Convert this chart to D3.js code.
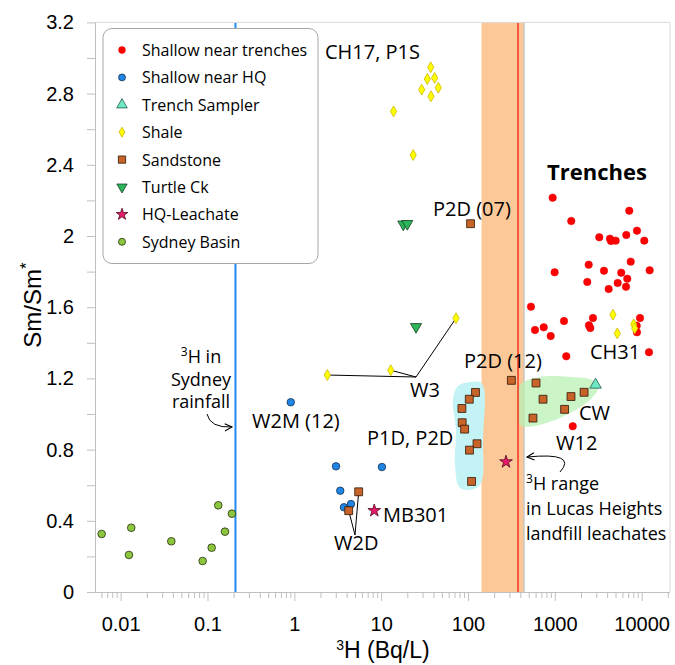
<!DOCTYPE html>
<html>
<head>
<meta charset="utf-8">
<script src="https://cdn.jsdelivr.net/npm/d3@7"></script>
<style>
  body { margin: 0; background: #fff; }
  svg { display: block; }
</style>
</head>
<body>
<svg id="chart" width="675" height="665"></svg>
<script>
// ---------- data: [3H (Bq/L), Sm/Sm*] ----------
const shallowTrenches = [
  [944,2.215],[7200,2.142],[1546,2.084],[3250,1.993],[4315,1.985],[4435,1.972],[5020,1.974],
  [6650,2.006],[8830,2.030],[10720,1.974],[995,1.796],[2455,1.839],[3680,1.805],[5820,1.794],
  [7480,1.856],[12360,1.807],[2365,1.742],[4170,1.702],[5290,1.736],[6830,1.760],[6600,1.715],
  [531,1.603],[591,1.472],[745,1.487],[896,1.438],[1275,1.522],[2750,1.539],[2473,1.498],
  [2560,1.483],[9570,1.539],[8770,1.496],[8830,1.459],[1355,1.324],[12140,1.347],[1607,0.931]
];
const shallowHQ = [[0.91,1.066],[3.02,0.706],[10.2,0.702],[3.38,0.569],[3.73,0.476],[4.49,0.494]];
const trenchSampler = [[2945,1.164]];
const shale = [
  [37.2,2.948],[34.0,2.882],[41.3,2.888],[29.3,2.822],[45.5,2.833],[37.5,2.785],[13.9,2.70],
  [23.4,2.455],[4670,1.558],[8090,1.504],[8310,1.481],[5240,1.453],[72.7,1.538],[2.40,1.219],[12.9,1.246]
];
const sandstone = [
  [107,2.069],[316,1.189],[122,1.121],[103.5,1.083],[85.1,1.031],[85.7,0.951],[91.4,0.915],
  [127,0.833],[104,0.797],[110,0.621],[607,1.174],[731,1.083],[1535,1.098],[2173,1.122],
  [1295,1.026],[560,0.977],[5.51,0.563],[4.23,0.457]
];
const turtleCk = [[18.0,2.066],[20.0,2.069],[25.2,1.490]];
const hqLeachate = [[274,0.731],[8.33,0.457]];
const sydneyBasin = [
  [0.00604,0.326],[0.01246,0.208],[0.01324,0.361],[0.0383,0.285],[0.0880,0.174],
  [0.1117,0.249],[0.133,0.487],[0.159,0.339],[0.191,0.440]
];

// reference levels
const rainfall3H = 0.21;              // 3H in Sydney rainfall
const leachateRange = [143, 441];     // 3H range in Lucas Heights landfill leachates
const leachateLine = 377;

// outlines of the shaded groups
const hullP1D = [[105,1.180],[145,1.169],[149,0.854],[143,0.618],[117,0.579],[80.9,0.584],
                 [70.8,0.713],[72.6,0.910],[67.1,1.079],[76.7,1.157]];
const hullCW = [[397,1.163],[675,1.208],[1496,1.208],[2680,1.191],[3140,1.146],[2540,1.079],
                [1577,1.011],[1004,0.966],[591,0.933],[397,0.938],[377,1.051]];

// axes
const xMajorTicks = [0.01, 0.1, 1, 10, 100, 1000, 10000];
const xTickLabels = ["0.01", "0.1", "1", "10", "100", "1000", "10000"];
const yTicks = [0,0.2,0.4,0.6,0.8,1.0,1.2,1.4,1.6,1.8,2.0,2.2,2.4,2.6,2.8,3.0,3.2];
const yTickLabels = ["0","","0.4","","0.8","","1.2","","1.6","","2","","2.4","","2.8","","3.2"];

const seriesNames = ["Shallow near trenches","Shallow near HQ","Trench Sampler","Shale",
                     "Sandstone","Turtle Ck","HQ-Leachate","Sydney Basin"];

// ---------- layout ----------
const svg = d3.select("#chart");
const L = 96, R = 670, T = 22.4, B = 592;
const x = d3.scaleLog().domain([0.0052, 21200]).range([L, R]);
const y = d3.scaleLinear().domain([0, 3.2]).range([B, T]);
const axisColor = "#bfbfbf";
const annFont = "'Open Sans', sans-serif";
const axFont = "'Liberation Sans', Arial, sans-serif";

// leachate band
svg.append("rect")
  .attr("x", x(leachateRange[0])).attr("y", T)
  .attr("width", x(leachateRange[1]) - x(leachateRange[0])).attr("height", B - T)
  .attr("fill", "#fdc898");
svg.append("line")
  .attr("x1", x(leachateRange[1])).attr("x2", x(leachateRange[1]))
  .attr("y1", T).attr("y2", B).attr("stroke", "#c9c3bd").attr("stroke-width", 1.5);

// shaded groups
const hull = d3.line().x(d => x(d[0])).y(d => y(d[1])).curve(d3.curveCatmullRomClosed.alpha(0.5));
svg.append("path").attr("d", hull(hullP1D)).attr("fill", "#c4f3f5");
svg.append("path").attr("d", hull(hullCW)).attr("fill", "rgba(185,240,180,0.75)");

// reference lines
svg.append("line")
  .attr("x1", x(rainfall3H)).attr("x2", x(rainfall3H)).attr("y1", T).attr("y2", B)
  .attr("stroke", "#2089f0").attr("stroke-width", 2);
svg.append("line")
  .attr("x1", x(leachateLine)).attr("x2", x(leachateLine)).attr("y1", T).attr("y2", B)
  .attr("stroke", "#f4563a").attr("stroke-width", 2);

// plot frame (top and right)
svg.append("path")
  .attr("d", `M${L},${T}H${R}V${B}`)
  .attr("fill", "none").attr("stroke", "#d9d9d9").attr("stroke-width", 1);

// x axis: minor ticks
const xMinor = [];
for (let k = -3; k <= 4; k++) for (let m = 2; m <= 9; m++) {
  const v = m * Math.pow(10, k);
  if (v > x.domain()[0] && v < x.domain()[1]) xMinor.push(v);
}
const gxMinor = svg.append("g").attr("transform", `translate(0,${B})`)
  .call(d3.axisBottom(x).tickValues(xMinor).tickSize(6).tickFormat(""));
const gx = svg.append("g").attr("transform", `translate(0,${B})`)
  .call(d3.axisBottom(x).tickValues(xMajorTicks).tickSize(9).tickPadding(16)
    .tickFormat((d, i) => xTickLabels[i]));
[gxMinor, gx].forEach(g => {
  g.select(".domain").attr("stroke", axisColor).attr("d", `M${L},0.5H${R}`);
  g.selectAll(".tick line").attr("stroke", axisColor);
});
gx.selectAll(".tick text").attr("font-family", axFont).attr("font-size", 20).attr("fill", "#000");

// y axis
const gy = svg.append("g").attr("transform", `translate(${L},0)`)
  .call(d3.axisLeft(y).tickValues(yTicks).tickSize(9).tickPadding(13)
    .tickFormat((d, i) => yTickLabels[i]));
gy.select(".domain").attr("stroke", axisColor).attr("d", `M-0.5,${B}V${T}`);
gy.selectAll(".tick line").attr("stroke", axisColor);
gy.selectAll(".tick text").attr("font-family", axFont).attr("font-size", 20).attr("fill", "#000");

// axis titles
const xt = svg.append("text").attr("x", 383).attr("y", 658).attr("text-anchor", "middle")
  .attr("font-family", axFont).attr("font-size", 23);
xt.append("tspan").attr("font-size", 14).attr("dy", -8).text("3");
xt.append("tspan").attr("dy", 8).text("H (Bq/L)");
const yt = svg.append("text").attr("transform", "translate(41,305) rotate(-90)")
  .attr("text-anchor", "middle").attr("font-family", axFont).attr("font-size", 24);
yt.append("tspan").text("Sm/Sm");
yt.append("tspan").attr("dy", -9).attr("font-size", 17).text("*");

// leader lines
const leader = (pts, vx, vy) => pts.forEach(p =>
  svg.append("line").attr("x1", x(p[0])).attr("y1", y(p[1])).attr("x2", vx).attr("y2", vy)
    .attr("stroke", "#000").attr("stroke-width", 1));
leader([shale[13], shale[14], shale[12]], 416, 377);
leader([sandstone[16], sandstone[17]], 355, 535);

// arrows
svg.append("defs").append("marker").attr("id", "arr")
  .attr("viewBox", "0 0 10 10").attr("refX", 9).attr("refY", 5)
  .attr("markerWidth", 9).attr("markerHeight", 9).attr("orient", "auto-start-reverse")
  .attr("markerUnits", "userSpaceOnUse")
  .append("path").attr("d", "M1,1L9,5L1,9").attr("fill", "none").attr("stroke", "#000").attr("stroke-width", 1.2);
svg.append("path").attr("d", "M207,414 Q210,428 232,427")
  .attr("fill", "none").attr("stroke", "#000").attr("stroke-width", 1).attr("marker-end", "url(#arr)");
svg.append("path").attr("d", "M560,472 Q578,452 527,457")
  .attr("fill", "none").attr("stroke", "#000").attr("stroke-width", 1).attr("marker-end", "url(#arr)");

// ---------- markers ----------
const styles = [
  { data: shallowTrenches, type: d3.symbolCircle, size: 44, fill: "#ff0000", stroke: "#e00000", sw: 0.5, rot: 0 },
  { data: shallowHQ, type: d3.symbolCircle, size: 44, fill: "#1f86e8", stroke: "#15304d", sw: 0.8, rot: 0 },
  { data: trenchSampler, type: d3.symbolTriangle, size: 58, fill: "#6ce8c4", stroke: "#24594a", sw: 0.8, rot: 0 },
  { data: shale, type: d3.symbolDiamond, size: 34, fill: "#ffff00", stroke: "#cdb800", sw: 0.8, rot: 0 },
  { data: sandstone, type: d3.symbolSquare, size: 62, fill: "#c8642a", stroke: "#2e1605", sw: 0.8, rot: 0 },
  { data: turtleCk, type: d3.symbolTriangle, size: 54, fill: "#2bb55a", stroke: "#1b3d24", sw: 0.8, rot: 180 },
  { data: hqLeachate, type: d3.symbolStar, size: 50, fill: "#e8196a", stroke: "#4d0a1f", sw: 0.8, rot: 0 },
  { data: sydneyBasin, type: d3.symbolCircle, size: 46, fill: "#8cc63e", stroke: "#26300f", sw: 0.8, rot: 0 }
];
styles.forEach(s => {
  svg.append("g").selectAll("path").data(s.data).join("path")
    .attr("d", d3.symbol().type(s.type).size(s.size))
    .attr("transform", d => `translate(${x(d[0])},${y(d[1])}) rotate(${s.rot})`)
    .attr("fill", s.fill).attr("stroke", s.stroke).attr("stroke-width", s.sw);
});

// ---------- annotations ----------
const ann = (t, px, py, size = 20, weight = "normal") =>
  svg.append("text").attr("x", px).attr("y", py).attr("font-family", annFont)
    .attr("font-size", size).attr("font-weight", weight).attr("fill", "#000").text(t);
ann("CH17, P1S", 325, 59);
ann("Trenches", 547, 180, 22, "bold");
ann("P2D (07)", 433, 216);
ann("P2D (12)", 464, 368);
ann("CH31", 590, 359);
ann("CW", 579, 420);
ann("W12", 556, 450);
ann("W2M (12)", 252, 428);
ann("P1D, P2D", 367, 445);
ann("MB301", 383, 522);
ann("W2D", 334, 550);
ann("W3", 410, 397);

const multi = (lines, px, py, lh, anchor) => {
  const t = svg.append("text").attr("font-family", annFont).attr("font-size", 18)
    .attr("text-anchor", anchor).attr("fill", "#000");
  lines.forEach((ln, i) => {
    const row = t.append("tspan").attr("x", px).attr("y", py + i * lh);
    if (ln.startsWith("3H")) {
      row.append("tspan").attr("font-size", 12).attr("dy", -7).text("3");
      row.append("tspan").attr("dy", 7).text(ln.slice(1));
    } else row.text(ln);
  });
};
multi(["3H in", "Sydney", "rainfall"], 201, 363, 22.5, "middle");
multi(["3H range", "in Lucas Heights", "landfill leachates"], 526, 490, 25, "start");

// ---------- legend ----------
const lg = svg.append("g");
lg.append("rect").attr("x", 103).attr("y", 28.5).attr("width", 215).attr("height", 235)
  .attr("rx", 9).attr("fill", "#fff").attr("stroke", "#a6a6a6").attr("stroke-width", 1);
styles.forEach((s, i) => {
  const ry = 50 + i * 27.4;
  lg.append("path").attr("d", d3.symbol().type(s.type).size(s.size * 0.85))
    .attr("transform", `translate(122,${ry}) rotate(${s.rot})`)
    .attr("fill", s.fill).attr("stroke", s.stroke).attr("stroke-width", s.sw);
  lg.append("text").attr("x", 142).attr("y", ry + 6).attr("font-family", annFont)
    .attr("font-size", 16).attr("fill", "#000").text(seriesNames[i]);
});
</script>
</body>
</html>
